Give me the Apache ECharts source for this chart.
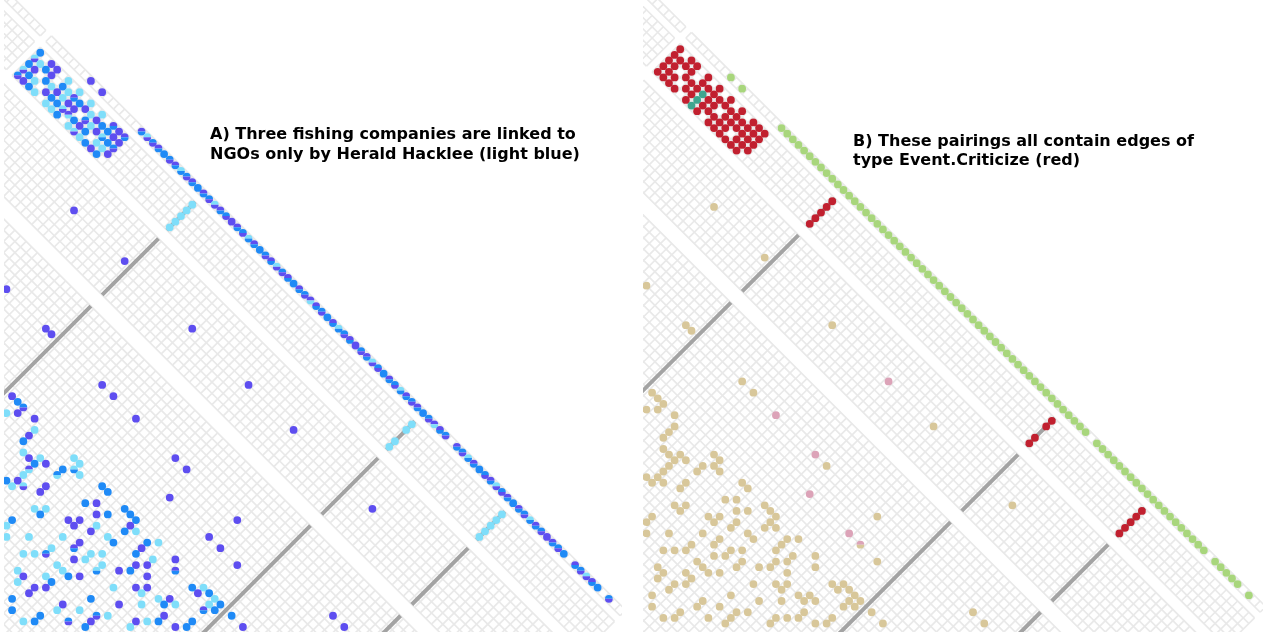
<!DOCTYPE html>
<html><head><meta charset="utf-8">
<script src="https://cdn.jsdelivr.net/npm/echarts/dist/echarts.min.js"></script>
<style>html,body{margin:0;padding:0;background:#fff}#c{width:1275px;height:632px}</style>
</head><body><div id="c"></div>
<script>
// ---------------- DATA ----------------
const titleA = ["A) Three fishing companies are linked to", "NGOs only by Herald Hacklee (light blue)"];
const titleB = ["B) These pairings all contain edges of", "type Event.Criticize (red)"];

// matrix layout: row bands (edges, in row units) and column groups (column -1 is a blank separator)
const rowBands = [[-0.5,0.5],[1.5,6.5],[8,18],[20,73]];
const colGroups = [[-14,-2],[0,101]];
const grayCols = [27, 66, 82];

// row 0 (top diagonal band)
const diagCols = [7,9,16,17,18,19,20,21,22,23,24,25,26,27,28,29,30,31,32,33,34,35,36,37,38,39,40,41,42,43,44,45,46,47,48,49,50,51,52,53,54,55,56,57,58,59,60,61,62,63,64,65,66,67,68,69,70,72,73,74,75,76,77,78,79,80,81,82,83,84,85,86,87,88,89,90,91,93,94,95,96,97,99];
const diagA = ["P","P",
 "PB","LP","BP","PB","B","BP","PB","LB","BP","PB","B","PB","BP","LP","PB","BP","P","PB","BP","LB",
 "PB","B","BP","PB","LP","BP","PB","B","PB","BP","PL","PB","BP","B","PB","LB","BP","PB","P","BP",
 "PB","LP","BP","B","PB","BP","LB","PB","BP","PB","B","BP","PL","PB","BP",
 "PB","BP","LB","PB","B","BP","PB","LP","BP","PB","B","PB","BP","LB","PB","BP","P","PB","BP","B",
 "PB","BP","LP","PB","B",
 "BP"];

// top-left block: rows 2..6, columns 0..15 ("-" = empty)
const clusterRows = [2,3,4,5,6];
const clusterA = [
 "B - P P - L - L - L - L - PB P PB",
 "LP L B P - B L PB B P L P B B P P",
 "B P - B L P L P P - BP L P LB B BP",
 "LP B L - P B B LP PL B P B - L L P",
 "BP P B L - L L B - L LP L B P B -"
];
const clusterB = [
 "R - R R - R - R - R - R - R R R",
 "R R R R - R R R R R R R R R R R",
 "R R - R R R T R R - R R R R R R",
 "R R R - R R T R R R R R - R R R",
 "R R R R - R T R - R R R R R R -"
];

// short segments in rows 2..6
const segCols = [27, 66, 82];
const segRows = [[2,3,4,5,6],[2,3,5,6],[2,3,4,5,6]];

// scattered cells [column, row, colour code panel A, colour code panel B]
const scatterCells = [
 [17,13,"P","N"],[26,13,"P","N"],[38,13,"P","N"],[48,13,"P","K"],[56,13,"P","N"],[70,13,"P","N"],
 [18,26,"P","N"],[25,26,"P","N"],[26,26,"P","N"],[35,26,"P","N"],[37,26,"P","N"],[41,26,"P","K"],
 [48,26,"P","K"],[50,26,"P","N"],[59,26,"P","N"],[76,26,"P","N"],[78,26,"P","N"],
 [51,30,"P","K"],[58,30,"P","K"],[60,30,"P","KN"],[63,30,"P","N"],
 [28,35,"P","N"],[29,35,"B","N"],[30,35,"BP","N"],[29,37,"L","N"],[30,36,"P","N"],[32,35,"P","N"],
 [33,36,"L","N"],[33,37,"P","N"],[33,38,"B","N"],[34,39,"L","N"],[35,39,"P","N"],[36,38,"L","N"],
 [37,38,"P","N"],[36,39,"B","N"],[39,35,"L","N"],[40,35,"L","N"],[36,40,"PL","N"],[39,37,"B","N"],
 [39,38,"BL","N"],[40,36,"LB","N"],[41,36,"L","N"],[36,41,"L","N"],[36,42,"P","N"],[35,43,"B","N"],
 [36,43,"L","N"],[37,42,"LP","N"],[44,35,"B","N"],[45,35,"B","N"],[39,41,"P","N"],[39,40,"P","N"],
 [44,38,"B","N"],[45,37,"P","N"],[40,43,"L","N"],[41,42,"L","N"],[41,43,"B","N"],[48,35,"B","N"],
 [46,38,"P","N"],[47,37,"B","N"],[49,35,"B","N"],[39,46,"B","N"],[44,41,"P","N"],[45,40,"P","N"],
 [50,35,"B","N"],[39,47,"L","N"],[45,41,"P","N"],[47,39,"L","N"],[50,36,"P","N"],[47,40,"P","N"],
 [50,37,"B","N"],[51,36,"L","N"],[40,48,"L","N"],[42,46,"L","N"],[45,43,"L","N"],[49,39,"L","N"],
 [47,42,"P","N"],[50,39,"B","N"],[53,36,"B","N"],[54,35,"L","N"],[45,45,"L","N"],[47,43,"PB","N"],
 [49,42,"L","N"],[53,37,"P","N"],[43,48,"L","N"],[44,47,"L","N"],[45,46,"BP","N"],[49,43,"L","N"],
 [50,41,"L","N"],[53,38,"B","N"],[55,37,"L","N"],[48,44,"P","N"],[57,35,"P","N"],[47,46,"L","N"],
 [51,42,"L","N"],[54,39,"P","N"],[55,38,"P","N"],[44,50,"L","N"],[48,46,"L","N"],[51,43,"LB","N"],
 [53,41,"P","N"],[54,40,"B","N"],[58,36,"PB","N"],[45,50,"P","N"],[47,48,"L","N"],[49,46,"B","N"],
 [50,45,"P","N"],[56,39,"P","N"],[45,51,"L","N"],[48,48,"B","N"],[47,50,"P","N"],[48,49,"P","N"],
 [54,43,"L","N"],[56,41,"P","N"],[57,40,"P","N"],[61,36,"B","N"],[62,35,"L","N"],[47,51,"P","N"],
 [57,41,"L","N"],[62,36,"P","N"],[63,35,"B","N"],[46,53,"B","N"],[53,46,"B","N"],[59,40,"L","N"],
 [60,39,"P","N"],[64,35,"L","N"],[51,49,"P","N"],[56,44,"P","N"],[58,42,"L","N"],[60,40,"B","N"],
 [61,39,"L","N"],[64,36,"L","N"],[65,35,"B","N"],[47,54,"B","N"],[51,50,"L","N"],[53,48,"L","N"],
 [64,37,"PB","N"],[65,36,"B","N"],[67,35,"B","N"],[50,52,"B","N"],[55,47,"BP","N"],[56,46,"L","N"],
 [61,41,"P","N"],[49,54,"L","N"],[50,53,"B","N"],[53,50,"BP","N"],[55,48,"P","N"],[59,44,"P","N"],
 [60,43,"L","N"],[61,42,"B","N"],[64,39,"B","N"],[69,35,"P","N"],[55,49,"B","N"],[59,45,"L","N"],
 [63,41,"P","N"],[64,40,"B","N"]
];

// ---------------- STYLE ----------------
const COLORS = {P:"#5e4ef0", B:"#1f8af6", L:"#7fdefa", R:"#c1202f", G:"#a8d67c", T:"#3ea68f", N:"#d8c79a", K:"#dca3b8"};
const H = 5.63;   // px per half cell step
const DOT_R = 3.9;
const panels = [
  {left:4,   width:618, ox:51.5,  oy:41.5},
  {left:643, width:620, ox:691.5, oy:38}
];

// ---------------- BUILD ----------------
function tokens(s){ return s.trim().split(/\s+/); }
function buildCells(panel){
  const out = [];
  diagCols.forEach((k,i)=> out.push([k,0, panel===0 ? diagA[i] : "G"]));
  clusterRows.forEach((r,ri)=>{
    const t = tokens(panel===0 ? clusterA[ri] : clusterB[ri]);
    t.forEach((c,k)=>{ if(c!=="-") out.push([k,r,c]); });
  });
  segCols.forEach((k,i)=> segRows[i].forEach(r=> out.push([k,r, panel===0?"L":"R"])));
  scatterCells.forEach(c=> out.push([c[0],c[1], panel===0?c[2]:c[3]]));
  return out;
}
function buildGridLines(){
  const out = [];
  rowBands.forEach(([lo,hi])=>{
    colGroups.forEach(([c,d])=>{
      for(let e=lo; e<=hi+1e-9; e+=1) out.push([c-0.5, e, d+0.5, e]);
      for(let k=c; k<=d+1; k++) out.push([k-0.5, lo, k-0.5, hi]);
    });
  });
  return out;
}
function buildGray(){
  const out = [];
  grayCols.forEach(k=> rowBands.slice(1).forEach(([lo,hi])=> out.push([k, lo, k, hi])));
  return out;
}
const gridLines = buildGridLines();
const grayLines = buildGray();

function toXY(api, k, r){ return api.coord([k - r, k + r]); }

const grids=[], xAxes=[], yAxes=[], series=[];
panels.forEach((p,i)=>{
  grids.push({left:p.left, top:0, width:p.width, height:632, containLabel:false, show:false});
  xAxes.push({type:'value', gridIndex:i, min:(p.left - p.ox)/H, max:(p.left + p.width - p.ox)/H, show:false, splitLine:{show:false}});
  yAxes.push({type:'value', gridIndex:i, inverse:true, min:(0 - p.oy)/H, max:(632 - p.oy)/H, show:false, splitLine:{show:false}});
  series.push({
    type:'custom', xAxisIndex:i, yAxisIndex:i, clip:true, silent:true, z:1,
    data: gridLines,
    renderItem:(params, api)=>{
      const a = toXY(api, api.value(0), api.value(1));
      const b = toXY(api, api.value(2), api.value(3));
      return {type:'line', shape:{x1:a[0],y1:a[1],x2:b[0],y2:b[1]}, style:{stroke:'#e9e9e9', lineWidth:1.7}};
    }
  });
  series.push({
    type:'custom', xAxisIndex:i, yAxisIndex:i, clip:true, silent:true, z:2,
    data: grayLines,
    renderItem:(params, api)=>{
      const a = toXY(api, api.value(0), api.value(1));
      const b = toXY(api, api.value(2), api.value(3));
      return {type:'line', shape:{x1:a[0],y1:a[1],x2:b[0],y2:b[1]}, style:{stroke:'#a3a3a3', lineWidth:4}};
    }
  });
  const cells = buildCells(i);
  series.push({
    type:'custom', xAxisIndex:i, yAxisIndex:i, clip:true, silent:true, z:3,
    data: cells.map(c=>[c[0], c[1]]),
    renderItem:(params, api)=>{
      const c = cells[params.dataIndex];
      const pt = toXY(api, c[0], c[1]);
      const code = c[2];
      if(code.length === 1){
        return {type:'circle', shape:{cx:pt[0], cy:pt[1], r:DOT_R}, style:{fill:COLORS[code]}};
      }
      return {type:'group', children:[
        {type:'sector', shape:{cx:pt[0], cy:pt[1], r0:0, r:DOT_R, startAngle:Math.PI, endAngle:2*Math.PI, clockwise:true}, style:{fill:COLORS[code[0]]}},
        {type:'sector', shape:{cx:pt[0], cy:pt[1], r0:0, r:DOT_R, startAngle:0, endAngle:Math.PI, clockwise:true}, style:{fill:COLORS[code[1]]}}
      ]};
    }
  });
});

const font = 'bold 16px "DejaVu Sans", sans-serif';
const graphics = [
  {type:'text', left:210, top:127, z:10, style:{text:titleA[0], font:font, fill:'#000'}},
  {type:'text', left:210, top:147, z:10, style:{text:titleA[1], font:font, fill:'#000'}},
  {type:'text', left:853, top:134, z:10, style:{text:titleB[0], font:font, fill:'#000'}},
  {type:'text', left:853, top:153, z:10, style:{text:titleB[1], font:font, fill:'#000'}}
];

const chart = echarts.init(document.getElementById('c'), null, {renderer:'canvas'});
chart.setOption({
  animation:false,
  backgroundColor:'#fff',
  grid:grids, xAxis:xAxes, yAxis:yAxes, series:series,
  graphic:graphics
});
</script></body></html>
